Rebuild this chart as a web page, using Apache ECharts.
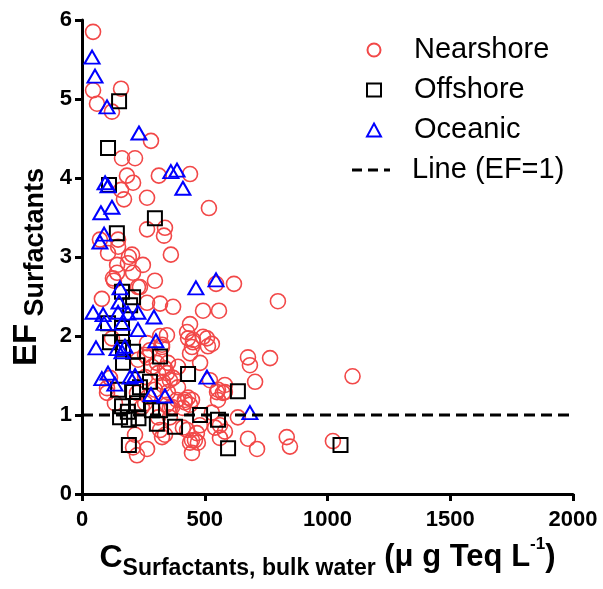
<!DOCTYPE html>
<html>
<head>
<meta charset="utf-8">
<script src="https://cdn.jsdelivr.net/npm/echarts@6/dist/echarts.min.js"></script>
<style>html,body{margin:0;padding:0;background:#fff}#c{width:603px;height:589px}</style>
</head>
<body>
<div id="c"></div>
<script>
var xTicks = [0, 500, 1000, 1500, 2000];
var yTicks = [0, 1, 2, 3, 4, 5, 6];
var seriesNames = ['Nearshore', 'Offshore', 'Oceanic', 'Line (EF=1)'];

var nearshore = [
[45,5.85],[45,5.11],[61,4.94],[122,4.84],[159,5.13],[163,4.25],[216,4.25],[183,4.03],[208,3.94],[159,3.85],[171,3.73],[265,3.75],[281,4.47],[313,4.03],[440,4.05],[517,3.62],[265,3.35],[338,3.37],[334,3.27],[73,3.22],[147,3.22],[147,3.13],[106,3.05],[204,3.03],[362,3.03],
[191,3.00],[143,2.90],[187,2.92],[248,2.90],[143,2.80],[208,2.80],[297,2.70],[130,2.70],[126,2.73],[228,2.62],[236,2.62],[619,2.66],[546,2.66],[81,2.47],[493,2.32],[558,2.32],[371,2.37],[318,2.41],[265,2.42],[798,2.44],
[440,2.15],[428,2.05],[493,1.99],[529,1.90],[513,1.87],[452,1.92],[448,1.86],[440,1.78],[676,1.73],[346,2.01],[452,1.95],[509,1.97],[318,2.00],[326,1.86],[326,1.89],[277,1.82],[265,1.73],[684,1.63],[766,1.72],[481,1.66],[350,1.66],[285,1.61],[371,1.47],[391,1.35],[330,1.42],[705,1.42],[582,1.38],[550,1.29],[102,1.28],[350,1.29],[432,1.22],[387,1.19],[411,1.09],[367,1.10],[635,0.97],[529,1.03],[216,0.75],[338,0.75],[428,0.81],[448,0.68],[472,0.65],[542,0.84],[562,0.71],[676,0.70],[713,0.57],[265,0.57],[224,0.49],[448,0.52],[310,0.97],[358,0.97],[244,1.10],[269,1.23],[297,1.32],[257,1.48],[310,1.53],[338,1.59],[391,1.61],[228,1.70],
[554,1.32],[582,1.29],[521,1.44],[432,1.97],[582,0.79],[480,0.87],[440,0.65],[419,1.19],[440,1.13],[411,0.84],[468,0.77],
[1102,1.49],[1022,0.67],[834,0.72],[847,0.60],
[122,1.97],[265,1.91],[257,1.76],[305,1.66],[346,1.53],[330,1.38],[102,1.34],[114,1.47],[224,1.28],[257,1.15],[346,1.13],[208,0.59],[318,0.81],[326,0.72],[134,1.15],
[358,1.44],[419,1.16],[448,1.19],[460,0.68],[554,1.19],[562,0.87],[574,1.28],[358,1.09]
];

var offshore = [
[151,4.97],[106,4.38],[110,3.91],[297,3.49],[142,3.30],[163,2.56],[208,2.49],[196,2.39],[106,2.16],[163,2.10],[114,1.92],[163,2.00],[167,1.85],[208,1.80],[318,1.74],[224,1.63],[432,1.52],[167,1.66],[147,1.32],[277,1.42],[236,1.35],[208,1.29],[635,1.30],[224,1.15],[163,1.11],[285,1.06],[318,1.06],[187,1.04],[155,0.97],[191,0.94],[230,0.96],[481,1.00],[554,0.94],[305,0.89],[379,0.85],[191,0.62],[595,0.58],[1053,0.62]
];

var oceanic = [
[41,5.53],[53,5.29],[102,4.90],[232,4.57],[94,3.94],[106,3.90],[362,4.08],[387,4.10],[411,3.87],[122,3.63],[77,3.56],[90,3.29],[73,3.19],[546,2.71],[464,2.61],[155,2.61],[151,2.43],[45,2.30],[86,2.27],[90,2.16],[147,2.30],[187,2.29],[228,2.30],[293,2.24],[163,2.16],[228,2.08],[301,1.94],[57,1.85],[143,1.84],[175,1.87],[163,1.80],[106,1.53],[81,1.46],[134,1.39],[196,1.48],[216,1.50],[509,1.48],[281,1.26],[338,1.24],[684,1.03]
];

var refLine = [[0,1],[2000,1]];

var FONT = '"Liberation Sans", Arial, sans-serif';
var legendText = {fontFamily: FONT, fontSize: 29, color: '#000', lineHeight: 30};
var chart = echarts.init(document.getElementById('c'), null, {renderer: 'canvas'});
chart.setOption({
  animation: false,
  backgroundColor: '#fff',
  grid: {left: 82, right: 30, top: 20, bottom: 95, containLabel: false},
  legend: [{
    orient: 'vertical', left: 361, top: 30,
    itemWidth: 14, itemHeight: 13, itemGap: 10,
    data: seriesNames.slice(0, 3),
    textStyle: Object.assign({padding: [0, 0, 0, 28]}, legendText)
  }, {
    orient: 'vertical', left: 347, top: 150,
    itemWidth: 40, itemHeight: 3, itemGap: 10,
    data: [{name: seriesNames[3], icon: 'path://M0,0H10V3H0Z M16,0H26V3H16Z M32,0H38V3H32Z'}],
    textStyle: Object.assign({padding: [0, 0, 0, 16]}, legendText)
  }],
  xAxis: {
    type: 'value', min: xTicks[0], max: xTicks[xTicks.length-1], interval: 500,
    splitLine: {show: false},
    axisLine: {onZero: false, lineStyle: {color: '#000', width: 3}},
    axisTick: {length: 7, lineStyle: {color: '#000', width: 3}},
    axisLabel: {fontFamily: FONT, fontSize: 22, fontWeight: 'bold', color: '#000', margin: 15,
      formatter: function (v) { return String(v); }},
    name: '{c|C}{s|Surfactants, bulk water}{m| (\u03bc g Teq L}{p|-1}{m|)}',
    nameLocation: 'middle', nameGap: 23,
    nameTextStyle: {
      fontFamily: FONT,
      rich: {
        c: {fontFamily: FONT, fontSize: 32, fontWeight: 'bold', color: '#000', lineHeight: 44, verticalAlign: 'middle'},
        s: {fontFamily: FONT, fontSize: 23, fontWeight: 'bold', color: '#000', lineHeight: 44, verticalAlign: 'bottom'},
        m: {fontFamily: FONT, fontSize: 31, fontWeight: 'bold', color: '#000', lineHeight: 44, verticalAlign: 'middle'},
        p: {fontFamily: FONT, fontSize: 17, fontWeight: 'bold', color: '#000', lineHeight: 44, verticalAlign: 'top'}
      }
    }
  },
  yAxis: {
    type: 'value', min: yTicks[0], max: yTicks[yTicks.length-1], interval: 1,
    splitLine: {show: false},
    axisLine: {onZero: false, lineStyle: {color: '#000', width: 3}},
    axisTick: {length: 7, lineStyle: {color: '#000', width: 3}},
    axisLabel: {fontFamily: FONT, fontSize: 22, fontWeight: 'bold', color: '#000', margin: 10},
    name: '{e|EF}{s| Surfactants}',
    nameLocation: 'middle', nameGap: 33, nameRotate: 90,
    nameTextStyle: {
      fontFamily: FONT,
      rich: {
        e: {fontFamily: FONT, fontSize: 33, fontWeight: 'bold', color: '#000', lineHeight: 44, verticalAlign: 'middle'},
        s: {fontFamily: FONT, fontSize: 27, fontWeight: 'bold', color: '#000', lineHeight: 44, verticalAlign: 'bottom', padding: [0, 20, 0, 0]}
      }
    }
  },
  series: [
    {name: seriesNames[0], type: 'scatter', data: nearshore, symbol: 'circle', symbolSize: 15,
     itemStyle: {color: 'rgba(255,255,255,0)', borderColor: '#f24848', borderWidth: 1.6, opacity: 1}, z: 2},
    {name: seriesNames[1], type: 'scatter', data: offshore, symbol: 'rect', symbolSize: 14,
     itemStyle: {color: 'rgba(255,255,255,0)', borderColor: '#000', borderWidth: 2, opacity: 1}, z: 3},
    {name: seriesNames[2], type: 'scatter', data: oceanic, symbol: 'triangle', symbolSize: [15, 13],
     itemStyle: {color: 'rgba(255,255,255,0)', borderColor: '#0000ff', borderWidth: 2, opacity: 1}, z: 4},
    {name: seriesNames[3], type: 'line', data: refLine, symbol: 'none', showSymbol: false,
     lineStyle: {color: '#000', width: 3, type: [11, 6]}, itemStyle: {color: '#000'}, z: 5}
  ]
});
</script>
</body>
</html>
